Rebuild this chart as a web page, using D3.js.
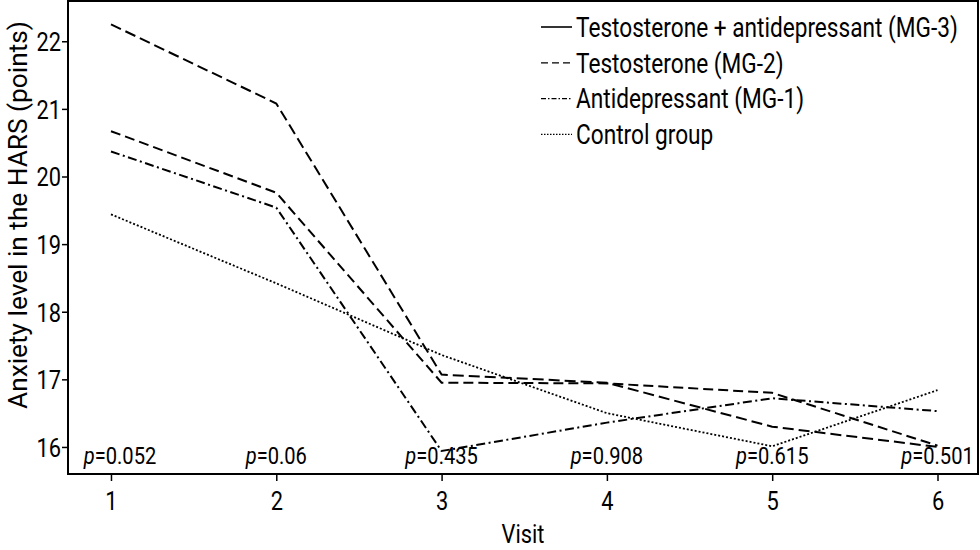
<!DOCTYPE html>
<html>
<head>
<meta charset="utf-8">
<script src="https://cdn.jsdelivr.net/npm/d3@7"></script>
<style>
  html, body { margin: 0; padding: 0; background: #fff; }
  svg { display: block; }
  text { font-family: Roboto, "Liberation Sans", sans-serif; fill: #000; }
</style>
</head>
<body>
<svg id="chart" width="980" height="550"></svg>
<script>
const visits = [1, 2, 3, 4, 5, 6];
const yTicks = [16, 17, 18, 19, 20, 21, 22];
const pLabels = ["0.052", "0.06", "0.435", "0.908", "0.615", "0.501"];

const seriesNames = [
  "Testosterone + antidepressant (MG-3)",
  "Testosterone (MG-2)",
  "Antidepressant (MG-1)",
  "Control group"
];
const mg3 = [22.25, 21.08, 17.07, 16.95, 16.30, 16.00];
const mg2 = [20.67, 19.76, 16.95, 16.94, 16.80, 16.02];
const mg1 = [20.37, 19.54, 15.94, 16.36, 16.72, 16.53];
const control = [19.44, 18.42, 17.36, 16.50, 16.01, 16.84];

const seriesValues = [mg3, mg2, mg1, control];
const plotDash = ["11,5", "10,5", "9,3.5,2,3.5", "2,2"];
const legendDash = [null, "7,4", "5,2,1.5,2", "1.5,1.5"];

const svg = d3.select("#chart");
const mLeft = 68, mRight = 978, mTop = 1, mBottom = 474;

const x = d3.scaleLinear().domain([0.74, 6.245]).range([mLeft, mRight]);
const y = d3.scaleLinear().domain([15.6, 22.6]).range([mBottom, mTop - 0.3]);

function measure(str, size) {
  const p = svg.append("text").attr("font-size", size).text(str);
  const w = p.node().getComputedTextLength();
  p.remove();
  return w;
}
// Horizontal condensing factor from the legend's first row width
const sx = Math.min(1, 382 / measure(seriesNames[0], 27));
const yTitle = "Anxiety level in the HARS (points)";
const sxTitle = Math.min(1.2, 388 / measure(yTitle, 26));

// Frame
svg.append("rect")
  .attr("x", mLeft).attr("y", mTop)
  .attr("width", mRight - mLeft).attr("height", mBottom - mTop)
  .attr("fill", "none").attr("stroke", "#000").attr("stroke-width", 2);

// Y axis
const yAxis = d3.axisLeft(y).tickValues(yTicks).tickSize(6).tickPadding(0).tickFormat(d3.format("d"));
const gy = svg.append("g").attr("transform", `translate(${mLeft},0)`).call(yAxis);
gy.select(".domain").remove();
gy.selectAll(".tick line").attr("stroke", "#000").attr("stroke-width", 1.5);
gy.selectAll(".tick text")
  .attr("font-size", 26).attr("dy", "0.36em").attr("x", null)
  .attr("font-family", null)
  .attr("transform", `translate(-7,0) scale(${sx},1)`);

// X axis
const xAxis = d3.axisBottom(x).tickValues(visits).tickSize(7).tickPadding(0).tickFormat(d3.format("d"));
const gx = svg.append("g").attr("transform", `translate(0,${mBottom})`).call(xAxis);
gx.select(".domain").remove();
gx.selectAll(".tick line").attr("stroke", "#000").attr("stroke-width", 1.5);
gx.selectAll(".tick text")
  .attr("font-size", 26).attr("y", null).attr("dy", null)
  .attr("font-family", null)
  .attr("transform", `translate(0,36) scale(${sx},1)`);

// Axis titles
svg.append("text")
  .attr("transform", `translate(${(mLeft + mRight) / 2},543) scale(${sx},1)`)
  .attr("text-anchor", "middle").attr("font-size", 26).text("Visit");

svg.append("text")
  .attr("transform", `translate(27,215) rotate(-90) scale(${sxTitle},1)`)
  .attr("text-anchor", "middle").attr("font-size", 26)
  .text(yTitle);

// Lines
const line = d3.line().x((d, i) => x(visits[i])).y(d => y(d));
seriesValues.forEach((vals, k) => {
  svg.append("path")
    .datum(vals)
    .attr("d", line)
    .attr("fill", "none")
    .attr("stroke", "#000")
    .attr("stroke-width", k === 3 ? 1.8 : 2)
    .attr("stroke-dasharray", plotDash[k]);
});

// p-value labels
const pg = svg.append("g");
pLabels.forEach((p, i) => {
  const t = pg.append("text")
    .attr("transform", `translate(${x(visits[i]) + (i === 0 ? 9 : 0)},464) scale(${sx},1)`)
    .attr("text-anchor", "middle")
    .attr("font-size", 24);
  t.append("tspan").attr("font-style", "italic").text("p");
  t.append("tspan").text("=" + p);
});

// Legend
const lg = svg.append("g");
seriesNames.forEach((name, k) => {
  const cy = 27 + k * 35.8;
  lg.append("line")
    .attr("x1", 541).attr("x2", 572)
    .attr("y1", cy).attr("y2", cy)
    .attr("stroke", "#000").attr("stroke-width", k === 0 ? 1.6 : 1.3)
    .attr("stroke-dasharray", legendDash[k]);
  lg.append("text")
    .attr("transform", `translate(576,${cy}) scale(${sx},1)`)
    .attr("dy", "0.36em")
    .attr("font-size", 27)
    .text(name);
});
</script>
</body>
</html>
